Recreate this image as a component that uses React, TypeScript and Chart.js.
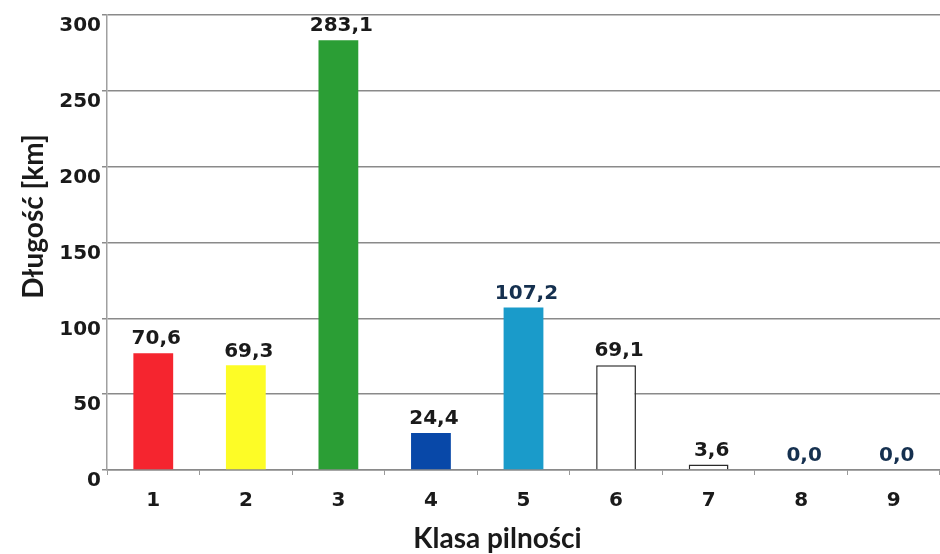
import React, { useEffect, useRef } from "react";
import { Chart, registerables } from "chart.js";

Chart.register(...registerables);

const categories = ["1", "2", "3", "4", "5", "6", "7", "8", "9"];
// bar heights as drawn in the picture
const barValues = [77, 69, 283.4, 24.4, 107.2, 69.1, 3.6, 0, 0];
// value labels as printed above the bars
const valueLabels = ["70,6", "69,3", "283,1", "24,4", "107,2", "69,1", "3,6", "0,0", "0,0"];
const labelColors = ["#1a1a1a", "#1a1a1a", "#1a1a1a", "#1a1a1a", "#15304f", "#1a1a1a", "#1a1a1a", "#15304f", "#15304f"];
const barColors = ["#f5252f", "#fdfc26", "#2b9e35", "#0848a8", "#1a9bca", "#ffffff", "#ffffff", "#ffffff", "#ffffff"];
const barBorders = ["#f5252f", "#fdfc26", "#2b9e35", "#0848a8", "#1a9bca", "#2a2a2a", "#2a2a2a", "#2a2a2a", "#2a2a2a"];
const barBorderWidths = [0, 0, 0, 0, 0, 1.5, 1.5, 0, 0];
const yTitle = "Długość [km]";
const xTitle = "Klasa pilności";

const tickFont = { family: "'DejaVu Sans', sans-serif", size: 20, weight: "bold" as const };

const valueLabelPlugin = {
  id: "valueLabels",
  afterDatasetsDraw(chart: any) {
    const ctx = chart.ctx;
    const meta = chart.getDatasetMeta(0);
    ctx.save();
    ctx.font = "bold 20px 'DejaVu Sans', sans-serif";
    ctx.textAlign = "center";
    ctx.textBaseline = "bottom";
    meta.data.forEach((el: any, i: number) => {
      ctx.fillStyle = labelColors[i];
      ctx.fillText(valueLabels[i], el.x + 3, el.y - 4);
    });
    ctx.restore();
  },
};

const titlesPlugin = {
  id: "axisTitles",
  afterDraw(chart: any) {
    const ctx = chart.ctx;
    const a = chart.chartArea;
    ctx.save();
    ctx.fillStyle = "#1a1a1a";
    ctx.font = "bold 28px Lato, 'DejaVu Sans', sans-serif";
    ctx.textAlign = "center";
    ctx.textBaseline = "middle";
    ctx.translate(34, (a.top + a.bottom) / 2 - 26);
    ctx.rotate(-Math.PI / 2);
    ctx.fillText(yTitle, 0, 0);
    ctx.restore();

    ctx.save();
    ctx.fillStyle = "#1a1a1a";
    ctx.font = "bold 28px Lato, 'DejaVu Sans', sans-serif";
    ctx.textAlign = "center";
    ctx.textBaseline = "middle";
    ctx.fillText(xTitle, (a.left + a.right) / 2 - 26, 539);
    ctx.restore();
  },
};

export default function App() {
  const ref = useRef<HTMLCanvasElement | null>(null);
  useEffect(() => {
    if (!ref.current) return;
    const chart = new Chart(ref.current, {
      type: "bar",
      data: {
        labels: categories,
        datasets: [
          {
            data: barValues,
            backgroundColor: barColors,
            borderColor: barBorders,
            borderWidth: barBorderWidths,
            barPercentage: 0.43,
            categoryPercentage: 1,
          },
        ],
      },
      options: {
        animation: false,
        responsive: true,
        maintainAspectRatio: false,
        layout: { padding: { top: 15, right: 0, bottom: 0, left: 0 } },
        plugins: { legend: { display: false }, tooltip: { enabled: false } },
        scales: {
          x: {
            grid: { drawOnChartArea: false, drawTicks: true, tickLength: 5, color: "#9a9a9a" },
            border: { color: "#8a8a8a", width: 1.5 },
            ticks: { font: tickFont, color: "#1a1a1a", padding: 14 },
            afterFit: (s: any) => {
              s.height = 84;
            },
          },
          y: {
            min: 0,
            max: 300,
            grid: { color: "#8a8a8a", lineWidth: 1.5, tickLength: 5 },
            border: { color: "#a0a0a0", width: 1.5 },
            ticks: { stepSize: 50, font: tickFont, color: "#1a1a1a", padding: 1, labelOffset: 11 },
            afterFit: (s: any) => {
              s.width = 107;
            },
          },
        },
      },
      plugins: [valueLabelPlugin, titlesPlugin],
    });
    return () => chart.destroy();
  }, []);
  return (
    <div style={{ position: "absolute", left: 0, top: 0, width: 940, height: 554, background: "#fff" }}>
      <canvas ref={ref} />
    </div>
  );
}
